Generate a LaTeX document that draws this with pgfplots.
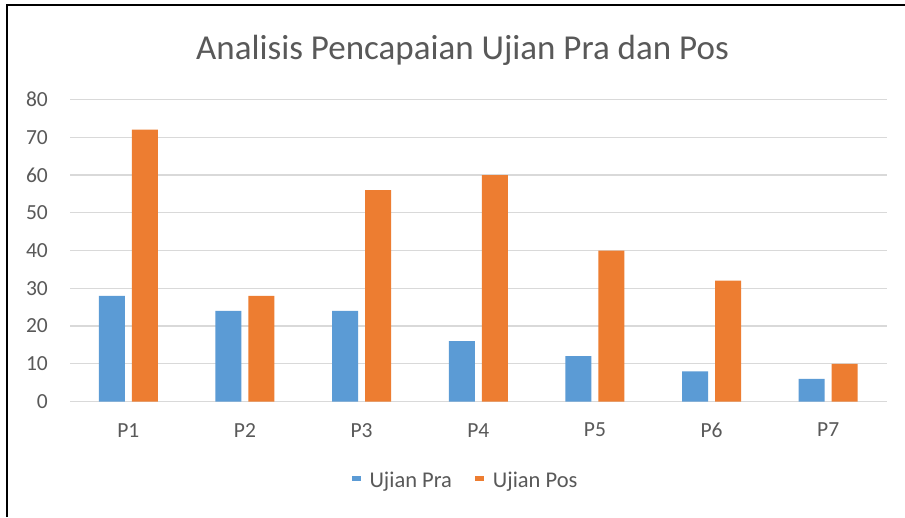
\documentclass[border=0pt]{standalone}
\usepackage{pgfplots}
\pgfplotsset{compat=1.18}
\usepackage{fontspec}
\setmainfont{Carlito}
\definecolor{cblue}{HTML}{5B9BD5}
\definecolor{corange}{HTML}{ED7D31}
\definecolor{ctext}{HTML}{595959}
\definecolor{cgrid}{HTML}{D9D9D9}
\pgfplotsset{
 sqblue/.style={legend image code/.code={\pgfpathrectangle{\pgfpoint{0pt}{0pt}}{\pgfpoint{9pt}{5pt}}\pgfsetfillcolor{cblue}\pgfusepath{fill}\pgfpathrectangle{\pgfpoint{0pt}{0pt}}{\pgfpoint{16pt}{0pt}}\pgfusepath{}}},
 sqorange/.style={legend image code/.code={\pgfpathrectangle{\pgfpoint{0pt}{0pt}}{\pgfpoint{9pt}{5pt}}\pgfsetfillcolor{corange}\pgfusepath{fill}\pgfpathrectangle{\pgfpoint{0pt}{0pt}}{\pgfpoint{16pt}{0pt}}\pgfusepath{}}}
}
\begin{document}
\begin{tikzpicture}[x=1pt,y=1pt]
\path[fill=white] (0,0) rectangle (905,517);
\begin{axis}[
 at={(70pt,115.5pt)}, anchor=south west,
 scale only axis, width=816.5pt, height=302pt,
 xmin=-0.5, xmax=6.5, ymin=0, ymax=80,
 ybar=7pt, bar width=26pt,
 xtick={0,1,2,3,4,5,6}, xticklabels={P1,P2,P3,P4,P5,P6,P7},
 ytick={0,10,20,30,40,50,60,70,80},
 ymajorgrids, grid style={cgrid, line width=1.3pt},
 axis line style={draw=none},
 major tick length=0pt,
 tick label style={font=\fontsize{21.5}{24}\selectfont, text=ctext},
 /pgf/number format/assume math mode=true,
 yticklabel style={inner sep=0pt, xshift=-22pt},
 xticklabel style={inner sep=0pt, yshift=-21.5pt, anchor=north},
 legend style={at={(0.4844,-0.2632)}, anchor=center, legend columns=2, draw=none, fill=none,
   font=\fontsize{22.5}{25}\selectfont, text=ctext,
   /tikz/every even column/.append style={column sep=21pt}},
]
\addplot[fill=cblue, draw=none, sqblue] coordinates {(0,28)(1,24)(2,24)(3,16)(4,12)(5,8)(6,6)};
\addplot[fill=corange, draw=none, sqorange] coordinates {(0,72)(1,28)(2,56)(3,60)(4,40)(5,32)(6,10)};
\legend{Ujian Pra, Ujian Pos}
\end{axis}
\node[anchor=base, font=\fontsize{35}{40}\selectfont, text=ctext, inner sep=0pt] at (462.5,457) {Analisis Pencapaian Ujian Pra dan Pos};
\draw[black, line width=2pt] (7,0) -- (7,512) -- (905,512);
\pgfresetboundingbox
\useasboundingbox (0,0) rectangle (905,517);
\end{tikzpicture}
\end{document}
